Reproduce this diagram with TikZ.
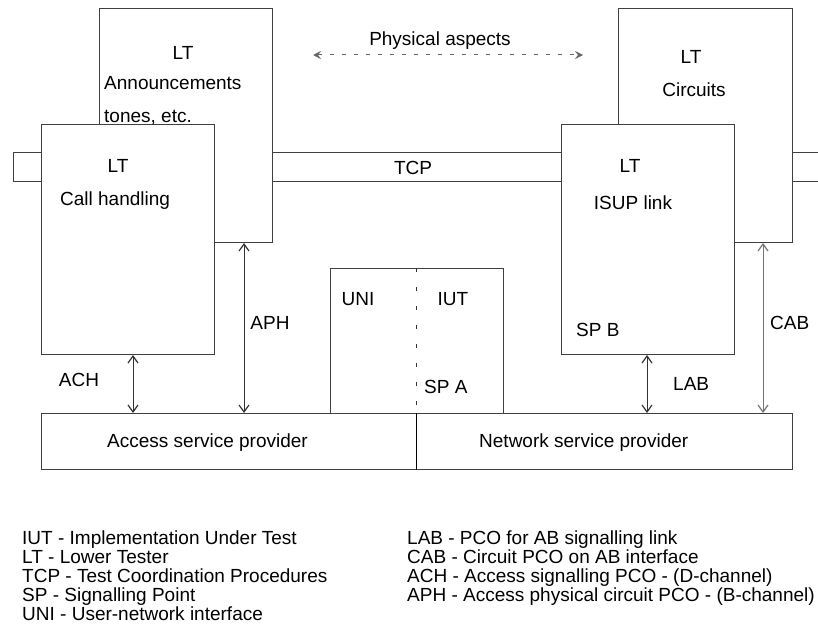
\documentclass[tikz,border=0pt]{standalone}
\usepackage{fontspec}
\setmainfont{Liberation Sans}
\usetikzlibrary{arrows.meta}
\begin{document}
\begin{tikzpicture}[x=1pt,y=-1pt,
  box/.style={draw=black!75, line width=1pt, fill=white, rectangle, inner sep=0pt, anchor=north west},
  lbl/.style={inner sep=0pt, font=\fontsize{19}{19}\selectfont},
  pco/.style={line width=1pt, draw=black!80, {Straight Barb[length=7pt,width=10pt,line width=1.2pt]}-{Straight Barb[length=7pt,width=10pt,line width=1.2pt]}},
  phys/.style={line width=1pt, draw=black!60, dash pattern=on 4pt off 8pt, {Stealth[length=8pt,width=8pt,inset=3pt]}-{Stealth[length=8pt,width=8pt,inset=3pt]}},
]
\useasboundingbox (0,0) rectangle (818,623);
% TCP strip
\draw[draw=black!75, line width=1pt] (818,152) -- (13,152) -- (13,181) -- (818,181);
% LT boxes
\node[box, minimum width=173pt, minimum height=234pt] (ann) at (99,8) {};
\node[box, minimum width=173pt, minimum height=230pt] (call) at (41,124) {};
\node[box, minimum width=174pt, minimum height=234pt] (circ) at (618,8) {};
\node[box, minimum width=173pt, minimum height=230pt] (isup) at (561,124) {};
% IUT box and provider box
\node[box, minimum width=173pt, minimum height=145pt] (iut) at (330,268) {};
\node[box, minimum width=751pt, minimum height=56pt] (prov) at (41,413) {};
\coordinate (div) at (416,268);
\draw[draw=black, line width=1pt] (div |- prov.north) -- (div |- prov.south);
\draw[draw=black!80, line width=1pt, dash pattern=on 4pt off 15pt] (div) -- (div |- prov.north);
% PCO arrows
\coordinate (xach) at (133,0);
\coordinate (xaph) at (244,0);
\coordinate (xlab) at (647,0);
\coordinate (xcab) at (763,0);
\draw[pco] (call.south -| xach) -- (prov.north -| xach);
\draw[pco] (ann.south -| xaph) -- (prov.north -| xaph);
\draw[pco] (isup.south -| xlab) -- (prov.north -| xlab);
\draw[pco, draw=black!55] (circ.south -| xcab) -- (prov.north -| xcab);
% physical aspects
\coordinate (pl) at (313,55);
\coordinate (pr) at (583,55);
\draw[phys] (pl) -- (pr);
\node[lbl, anchor=base] (tphys) at (440,46) {Physical aspects};
% texts in boxes
\node[lbl, anchor=base] (t1) at (183,60) {LT};
\node[lbl, anchor=base west] (t2) at (104,90) {Announcements};
\node[lbl, anchor=base west] (t3) at (104,122) {tones, etc.};
\node[lbl, anchor=base] (t4) at (118,172) {LT};
\node[lbl, anchor=base west] (t5) at (60,205) {Call handling};
\node[lbl, anchor=base] (t6) at (413,174) {TCP};
\node[lbl, anchor=base] (t7) at (691,64) {LT};
\node[lbl, anchor=base] (t8) at (694,97) {Circuits};
\node[lbl, anchor=base] (t9) at (630,172) {LT};
\node[lbl, anchor=base] (t10) at (633,209) {ISUP link};
\node[lbl, anchor=base] (t11) at (358,305) {UNI};
\node[lbl, anchor=base] (t12) at (453,305) {IUT};
\node[lbl, anchor=base west] (t13) at (424,393) {SP A};
\node[lbl, anchor=base west] (t14) at (576,336) {SP B};
\node[lbl, anchor=base] (t15) at (270,329) {APH};
\node[lbl, anchor=base] (t16) at (79,386) {ACH};
\node[lbl, anchor=base west] (t17) at (673,390) {LAB};
\node[lbl, anchor=base west] (t18) at (770,329) {CAB};
\node[lbl, anchor=base west] (t19) at (107,447) {Access service provider};
\node[lbl, anchor=base west] (t20) at (479,447) {Network service provider};
% legend
\node[lbl, anchor=base west] (l1) at (22,544) {IUT - Implementation Under Test};
\node[lbl, anchor=base west] (l2) at (22,563) {LT - Lower Tester};
\node[lbl, anchor=base west] (l3) at (22,582) {TCP - Test Coordination Procedures};
\node[lbl, anchor=base west] (l4) at (22,601) {SP - Signalling Point};
\node[lbl, anchor=base west] (l5) at (22,620) {UNI - User-network interface};
\node[lbl, anchor=base west] (r1) at (407,544) {LAB - PCO for AB signalling link};
\node[lbl, anchor=base west] (r2) at (407,563) {CAB - Circuit PCO on AB interface};
\node[lbl, anchor=base west] (r3) at (407,582) {ACH - Access signalling PCO - (D-channel)};
\node[lbl, anchor=base west] (r4) at (407,601) {APH - Access physical circuit PCO - (B-channel)};
\end{tikzpicture}
\end{document}
